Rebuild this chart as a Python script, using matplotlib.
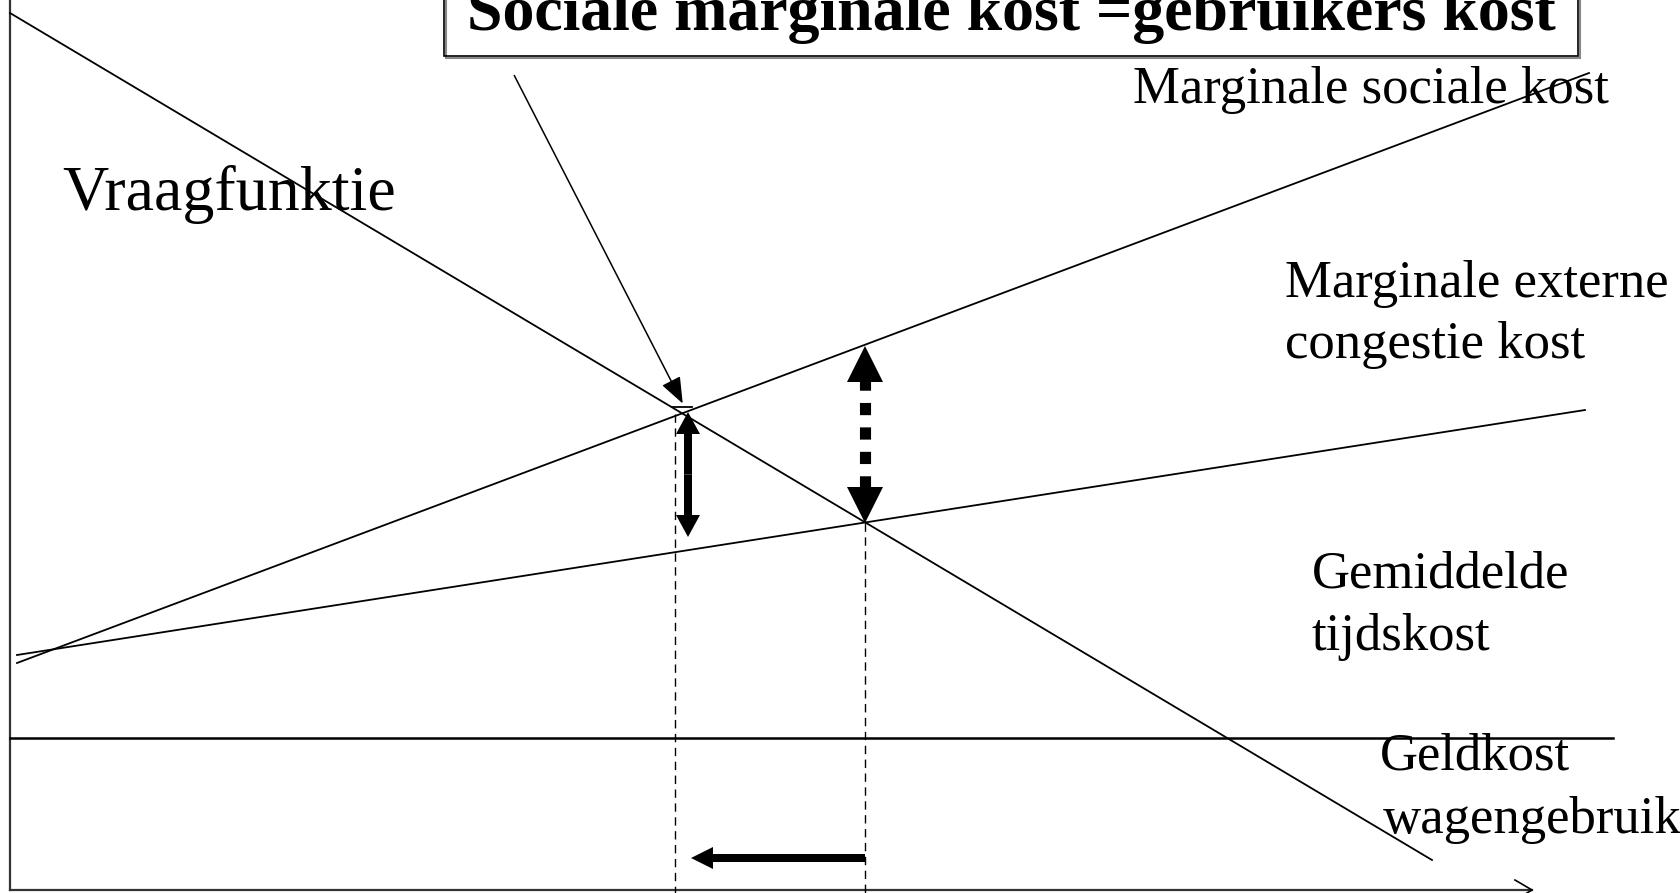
import matplotlib.pyplot as plt
from matplotlib.patches import Rectangle

# Picture-space coordinates (x to the right, y downwards), one unit = one pixel
demand_x = [10, 1432]
demand_y = [13, 860]
msc_x = [17, 1589]          # marginale sociale kost
msc_y = [663, 73]
avg_x = [17, 1585]          # gemiddelde tijdskost
avg_y = [655, 410]
money_x = [10, 1613]        # geldkost wagengebruik
money_y = [738, 738]

q_social = 675              # optimum with congestion charge
q_market = 865              # market equilibrium
p_social = 412
p_market = 523
p_msc_at_market = 346

title = 'Sociale marginale kost =gebruikers kost'
label_demand = 'Vraagfunktie'
label_msc = 'Marginale sociale kost'
label_ext = ['Marginale externe', 'congestie kost']
label_avg = ['Gemiddelde', 'tijdskost']
label_money = ['Geldkost', 'wagengebruik']

plt.rcParams['font.family'] = ['Liberation Serif', 'DejaVu Serif']

fig = plt.figure(figsize=(16.81, 8.93), dpi=100)
ax = fig.add_axes([0, 0, 1, 1])
ax.set_xlim(0, 1681)
ax.set_ylim(893, 0)
ax.axis('off')

lw = 1.3
# axes of the diagram
ax.plot([10, 10], [0, 890], color='#333333', lw=1.6)
ax.plot([10, 1532], [890, 890], color='#333333', lw=1.6)
ax.plot([1515, 1532, 1515], [880, 890, 900], color='black', lw=1.2)

# curves
ax.plot(demand_x, demand_y, color='black', lw=lw)
ax.plot(msc_x, msc_y, color='black', lw=lw)
ax.plot(avg_x, avg_y, color='black', lw=lw)
ax.plot(money_x, money_y, color='black', lw=1.8)

# dashed drop lines
ax.plot([q_social, q_social], [p_social + 2, 893], color='black', lw=1.0,
        linestyle=(0, (6, 4)))
ax.plot([q_market, q_market], [p_market, 893], color='black', lw=1.0,
        linestyle=(0, (6, 4)))

# solid double arrow (externe kost at optimum)
xa = 688
mid = (p_social + 537) / 2
ax.arrow(xa, mid, 0, p_social - mid, width=8, head_width=24, head_length=22,
         length_includes_head=True, color='black', lw=0)
ax.arrow(xa, mid, 0, 537 - mid, width=8, head_width=24, head_length=22,
         length_includes_head=True, color='black', lw=0)

# dotted double arrow (externe kost at equilibrium)
ax.plot([q_market, q_market], [378, 487], color='black', lw=8,
        linestyle=(0, (1.1, 1.1)), dash_capstyle='butt')
ax.arrow(q_market, p_msc_at_market + 36, 0, -36, width=0.1, head_width=36,
         head_length=36, length_includes_head=True, color='black', lw=0)
ax.arrow(q_market, p_market - 36, 0, 36, width=0.1, head_width=36,
         head_length=36, length_includes_head=True, color='black', lw=0)

# horizontal arrow: reduction of traffic
ax.arrow(q_market, 858, 691 - q_market, 0, width=8, head_width=22,
         head_length=22, length_includes_head=True, color='black', lw=0)

# title box with pointer
ax.add_patch(Rectangle((446, -20), 1134, 78, fill=False, edgecolor='#888888', lw=1.5))
ax.add_patch(Rectangle((444, -20), 1134, 76, fill=False, edgecolor='black', lw=1.2))
ax.text(1011, 30, title, fontsize=46, fontweight='bold', ha='center', va='baseline')
ax.annotate('', xy=(684, 406), xytext=(513, 73),
            arrowprops=dict(arrowstyle='-|>,head_length=0.9,head_width=0.35',
                            color='black', lw=1.1, mutation_scale=18))
ax.plot([672, 692], [407, 407], color='black', lw=1.3)

# labels
ax.text(62, 210, label_demand, fontsize=46, va='baseline')
ax.text(1133, 103, label_msc, fontsize=38, va='baseline')
ax.text(1285, 297, label_ext[0], fontsize=38, va='baseline')
ax.text(1285, 358, label_ext[1], fontsize=38, va='baseline')
ax.text(1312, 587, label_avg[0], fontsize=38, va='baseline')
ax.text(1312, 650, label_avg[1], fontsize=38, va='baseline')
ax.text(1380, 770, label_money[0], fontsize=38, va='baseline')
ax.text(1383, 833, label_money[1], fontsize=38, va='baseline')

fig.savefig('out.png', dpi=100)
